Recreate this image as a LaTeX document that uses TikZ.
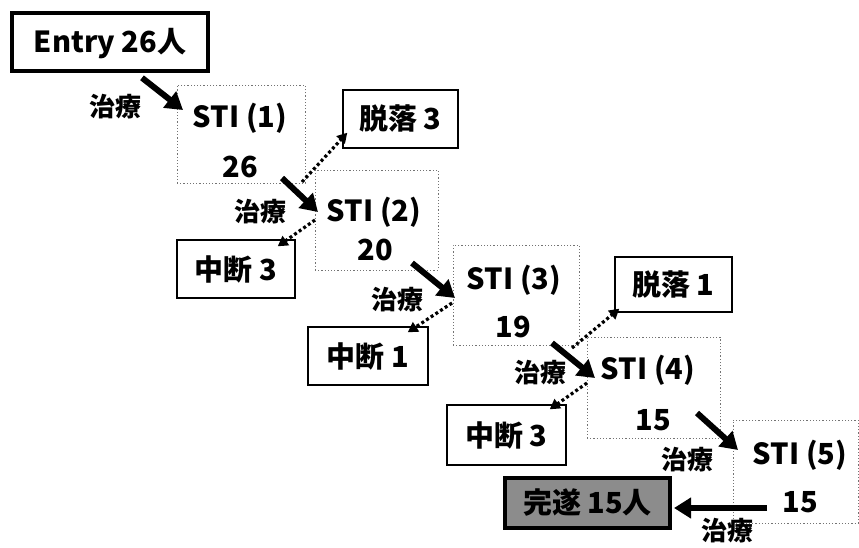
\documentclass[tikz,border=0pt]{standalone}
\usepackage{fontspec}
\setmainfont{Noto Sans CJK JP}
\usetikzlibrary{arrows.meta}
\begin{document}
\begin{tikzpicture}[x=1pt,y=-1pt,
  lbl/.style={font=\fontsize{29}{34}\selectfont\bfseries, inner sep=0pt},
  tlbl/.style={lbl, font=\fontsize{26}{30}\selectfont\bfseries},
  sbox/.style={lbl, draw=black, line width=1.4pt, fill=white},
  stibox/.style={draw=black!55, dash pattern=on 1.2pt off 2pt, line width=1pt},
  big/.style={-{Triangle[length=17pt,width=20pt]}, line width=6pt},
  dotarr/.style={-{Triangle[length=10pt,width=11pt]}, line width=3.2pt, dash pattern=on 3pt off 2.6pt},
]
\useasboundingbox (0,0) rectangle (859,547);
\clip (0,0) rectangle (859,547);

% STI boxes (dotted frames)
\node[stibox, minimum width=128pt, minimum height=98pt] (b1) at (241,134) {};
\node[stibox, minimum width=123pt, minimum height=100pt] (b2) at (376.5,220) {};
\node[stibox, minimum width=126pt, minimum height=100pt] (b3) at (516,295) {};
\node[stibox, minimum width=133pt, minimum height=101pt] (b4) at (653.5,387.5) {};
\node[stibox, minimum width=125pt, minimum height=103pt] (b5) at (795.5,471.5) {};

% Entry and goal
\node[lbl, draw=black, line width=3.6pt, fill=white, minimum width=196pt, minimum height=58pt, text depth=3pt] (entry) at (110,42) {Entry 26人};
\node[lbl, draw=black, line width=4pt, fill=black!45, minimum width=165pt, minimum height=50pt] (goal) at (587.5,503) {完遂 15人};

% Drop-out / discontinuation boxes
\node[sbox, minimum width=115pt, minimum height=58pt] (d1) at (400.5,119) {脱落 3};
\node[sbox, minimum width=118pt, minimum height=58pt] (c1) at (236,269) {中断 3};
\node[sbox, minimum width=120pt, minimum height=58pt] (c2) at (368,356) {中断 1};
\node[sbox, minimum width=117pt, minimum height=55pt] (d2) at (673.5,284.5) {脱落 1};
\node[sbox, minimum width=119pt, minimum height=60pt] (c3) at (506.5,435) {中断 3};

% STI texts and counts
\node[lbl] (s1) at (240,118) {STI (1)};
\node[lbl] (n1) at (240,167) {26};
\node[lbl] (s2) at (374,212) {STI (2)};
\node[lbl] (n2) at (375,250) {20};
\node[lbl] (s3) at (514,280) {STI (3)};
\node[lbl] (n3) at (513,327) {19};
\node[lbl] (s4) at (648,370) {STI (4)};
\node[lbl] (n4) at (653,420) {15};
\node[lbl] (s5) at (800,455) {STI (5)};
\node[lbl] (n5) at (800,502) {15};

% treatment labels
\node[tlbl] (t1) at (115,107) {治療};
\node[tlbl] (t2) at (260,212) {治療};
\node[tlbl] (t3) at (397,300) {治療};
\node[tlbl] (t4) at (540,373) {治療};
\node[tlbl] (t5) at (687,460) {治療};
\node[tlbl] (t6) at (727,531) {治療};

% main flow arrows
\draw[big] ([shift={(32,5)}]entry.south) -- ([shift={(-57,-8)}]s1.center);
\draw[big] ([shift={(42,11)}]n1.center) -- ([shift={(-56,0)}]s2.center);
\draw[big] ([shift={(37,13)}]n2.center) -- ([shift={(-59,18)}]s3.center);
\draw[big] ([shift={(39,16)}]n3.center) -- ([shift={(-53,8)}]s4.center);
\draw[big] ([shift={(44,-7)}]n4.center) -- ([shift={(-62,-5)}]s5.center);
\draw[big] ([shift={(-33,6)}]n5.center) -- ([shift={(2,5)}]goal.east);

% dotted arrows
\draw[dotarr] ([shift={(62,15)}]n1.center) -- ([shift={(5,-16)}]d1.south west);
\draw[dotarr] ([shift={(-59,8)}]s2.center) -- ([shift={(-18,7)}]c1.north east);
\draw[dotarr] ([shift={(-62,23)}]s3.center) -- ([shift={(-21,6)}]c2.north east);
\draw[dotarr] ([shift={(59,21)}]n3.center) -- ([shift={(5,-4)}]d2.south west);
\draw[dotarr] ([shift={(-61,13)}]s4.center) -- ([shift={(-17,5)}]c3.north east);
\end{tikzpicture}
\end{document}
